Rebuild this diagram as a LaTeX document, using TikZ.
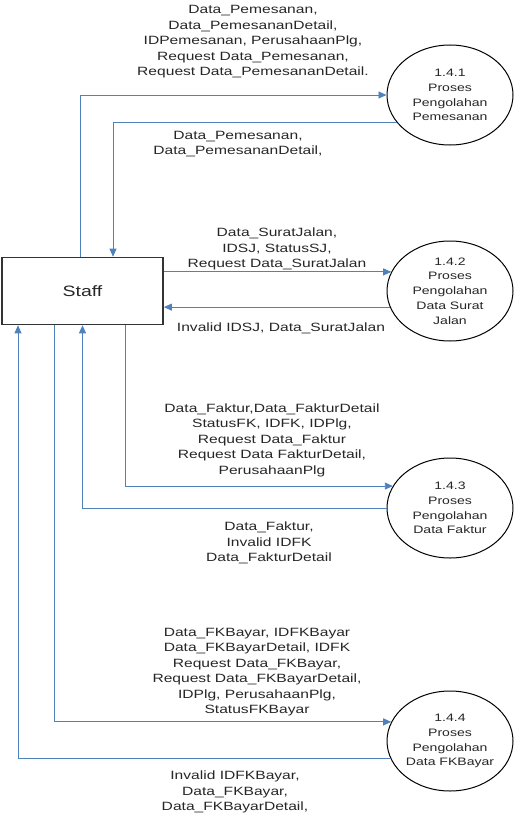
\documentclass[tikz,border=0pt]{standalone}
\usepackage{fontspec}
\setmainfont{Liberation Sans}[FakeStretch=1.3]
\usetikzlibrary{positioning,shapes.geometric,arrows.meta}
\definecolor{flowblue}{RGB}{79,129,189}

\begin{document}
\begin{tikzpicture}[x=1pt,y=1pt,on grid,
	font=\fontsize{12}{15.5}\selectfont,text=black!85,
	proc/.style={ellipse,draw,line width=1pt,minimum width=126pt,minimum height=100pt,inner sep=0pt,align=center,font=\fontsize{10.8}{14.8}\selectfont},
	ent/.style={rectangle,draw=black!80,line width=1.6pt,minimum width=161pt,minimum height=67pt,font=\fontsize{15}{18}\selectfont},
	flow/.style={draw=flowblue,line width=0.9pt,-{Triangle[length=8pt,width=7pt]}},
	lbl/.style={align=center}]
	\useasboundingbox (0,0) rectangle (520,-824);
	\node[ent] (staff) at (82.5,-291) {Staff};
	\node[proc,above right=196pt and 367.5pt of staff] (p1) {1.4.1\\Proses\\Pengolahan\\Pemesanan};
	\node[proc,right=367.5pt of staff] (p2) {1.4.2\\Proses\\Pengolahan\\Data Surat\\Jalan};
	\node[proc,below=217pt of p2] (p3) {1.4.3\\Proses\\Pengolahan\\Data Faktur};
	\node[proc,below=233pt of p3] (p4) {1.4.4\\Proses\\Pengolahan\\Data FKBayar};
	% flows
	\draw[flow] ([xshift=-2.5pt]staff.north) |- (p1.west);
	\draw[flow] (p1.207) -| ([xshift=30.5pt]staff.north);
	\draw[flow] (staff.east |- p2.162) -- (p2.162);
	\draw[flow] (p2.195) -- (staff.east |- p2.195);
	\draw[flow] ([xshift=42.5pt]staff.south) |- (p3.159);
	\draw[flow] (p3.west) -| (staff.south);
	\draw[flow] ([xshift=-28.5pt]staff.south) |- (p4.162);
	\draw[flow] (p4.196) -| ([xshift=-64.5pt]staff.south);
	% labels
	\node[lbl] (l1) at (253,-42) {Data\_Pemesanan,\\Data\_PemesananDetail,\\IDPemesanan, PerusahaanPlg,\\Request Data\_Pemesanan,\\Request Data\_PemesananDetail.};
	\node[lbl] (l2) at (238,-144) {Data\_Pemesanan,\\Data\_PemesananDetail,};
	\node[lbl] (l3) at (277,-249) {Data\_SuratJalan,\\IDSJ, StatusSJ,\\Request Data\_SuratJalan};
	\node[lbl] (l4) at (281,-328) {Invalid IDSJ, Data\_SuratJalan};
	\node[lbl] (l5) at (272,-440) {Data\_Faktur,Data\_FakturDetail\\StatusFK, IDFK, IDPlg,\\Request Data\_Faktur\\Request Data FakturDetail,\\PerusahaanPlg};
	\node[lbl] (l6) at (269,-543) {Data\_Faktur,\\Invalid IDFK\\Data\_FakturDetail};
	\node[lbl] (l7) at (257,-672) {Data\_FKBayar, IDFKBayar\\Data\_FKBayarDetail, IDFK\\Request Data\_FKBayar,\\Request Data\_FKBayarDetail,\\IDPlg, PerusahaanPlg,\\StatusFKBayar};
	\node[lbl] (l8) at (235,-792) {Invalid IDFKBayar,\\Data\_FKBayar,\\Data\_FKBayarDetail,};
\end{tikzpicture}
\end{document}
